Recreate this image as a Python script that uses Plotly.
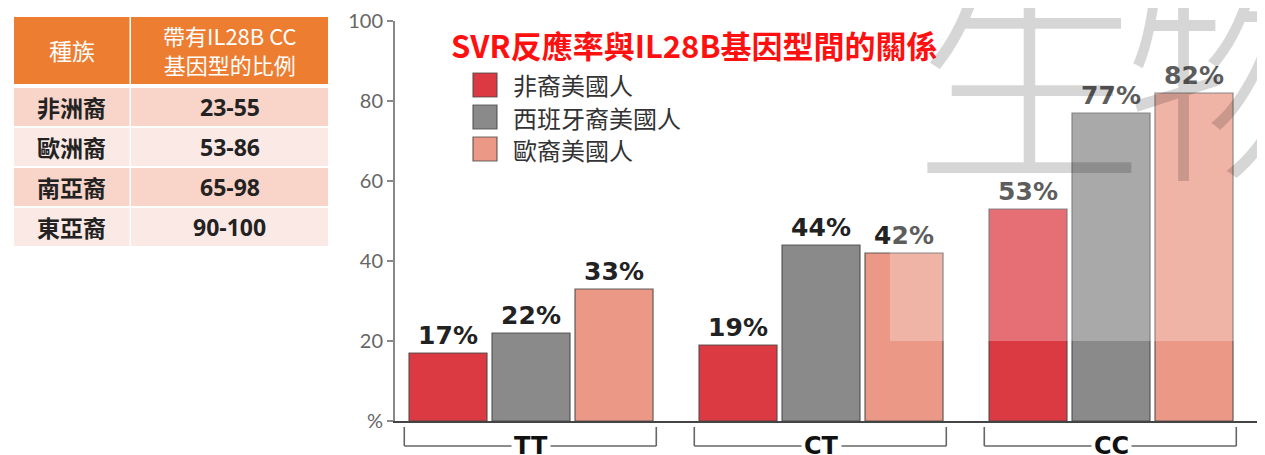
import plotly.graph_objects as go

# page is 1265x455; the html body has an 8px default margin,
# so the figure is made 8px smaller and all layout positions are offset.
OFF = 8
W, H = 1265 - OFF, 455 - OFF

# ---------------- data ----------------
genotypes = ["TT", "CT", "CC"]
series_names = ["非裔美國人", "西班牙裔美國人", "歐裔美國人"]
african_american = [17, 19, 53]
hispanic_american = [22, 44, 77]
european_american = [33, 42, 82]
series_values = [african_american, hispanic_american, european_american]
series_colors = ["#DC3A42", "#8A8A8A", "#EB9886"]

table_header = ["種族", "帶有IL28B CC<br>基因型的比例"]
table_groups = ["非洲裔", "歐洲裔", "南亞裔", "東亞裔"]
table_ranges = ["23-55", "53-86", "65-98", "90-100"]

y_tickvals = [0, 20, 40, 60, 80, 100]
y_ticktext = ["%", "20", "40", "60", "80", "100"]

title_text = "SVR反應率與IL28B基因型間的關係"
watermark_chars = ["生", "物"]


def px(x):
    return (x - OFF) / W


def py(y):
    return 1 - (y - OFF) / H


CJK = "Noto Sans CJK TC"
NUM = "DejaVu Sans"

fig = go.Figure()

for name, vals, col in zip(series_names, series_values, series_colors):
    fig.add_trace(go.Bar(
        x=genotypes, y=vals, name=name,
        marker=dict(color=col, line=dict(color="rgba(70,70,70,0.85)", width=1.2)),
        texttemplate="<b>%{y}%</b>", textposition="outside",
        textfont=dict(family=NUM, size=25, color="#222222"),
        showlegend=False,
    ))

shapes = []
annotations = []

# ---------------- table on the left (drawn with shapes + text) ----------------
col_edges = [(14, 129.5), (131, 328)]
row_fill = ["#F8D4C9", "#FBE9E5", "#F8D4C9", "#FBE9E5"]
# header
for (x0, x1), txt, fs in zip(col_edges, table_header, [23, 22]):
    shapes.append(dict(type="rect", xref="paper", yref="paper", layer="below",
                       x0=px(x0), x1=px(x1), y0=py(84), y1=py(17),
                       fillcolor="#ED7D31", line=dict(width=0)))
    annotations.append(dict(text=txt, xref="paper", yref="paper",
                            x=px((x0 + x1) / 2), y=py(50), xanchor="center", yanchor="middle",
                            showarrow=False, align="center",
                            font=dict(family=CJK, size=fs, color="white")))
# body rows
for i, (g, r) in enumerate(zip(table_groups, table_ranges)):
    top = 88 + 40 * i
    bot = top + 38
    for (x0, x1), txt, fam, fs in zip(col_edges, [g, r], [CJK, "Open Sans"], [23, 23]):
        shapes.append(dict(type="rect", xref="paper", yref="paper", layer="below",
                           x0=px(x0), x1=px(x1), y0=py(bot), y1=py(top),
                           fillcolor=row_fill[i], line=dict(width=0)))
        annotations.append(dict(text="<b>%s</b>" % txt, xref="paper", yref="paper",
                                x=px((x0 + x1) / 2), y=py((top + bot) / 2),
                                xanchor="center", yanchor="middle", showarrow=False,
                                font=dict(family=fam, size=fs, color="#222222")))

# ---------------- manual legend ----------------
for i, (name, col) in enumerate(zip(series_names, series_colors)):
    cy = 85 + i * 32
    shapes.append(dict(type="rect", xref="paper", yref="paper",
                       x0=px(473), x1=px(497), y0=py(cy + 12), y1=py(cy - 12),
                       fillcolor=col, line=dict(color="rgba(70,70,70,0.8)", width=1.2)))
    annotations.append(dict(text=name, xref="paper", yref="paper", x=px(511), y=py(cy),
                            xanchor="left", yanchor="middle", showarrow=False,
                            font=dict(family=CJK, size=24, color="#333333")))

# title
annotations.append(dict(text="<b>%s</b>" % title_text, xref="paper", yref="paper",
                        x=px(694), y=py(44), xanchor="center", yanchor="middle",
                        showarrow=False, font=dict(family=CJK, size=31, color="#FF1010")))

# group brackets below x axis
for i, g in enumerate(genotypes):
    l, r = i - 0.437, i + 0.432
    ytop, ybot = py(427), py(446)
    for seg in [(l, ytop, l, ybot), (r, ytop, r, ybot), (l, ybot, r, ybot)]:
        shapes.append(dict(type="line", xref="x", yref="paper",
                           x0=seg[0], y0=seg[1], x1=seg[2], y1=seg[3],
                           line=dict(color="#666666", width=1.6)))
    annotations.append(dict(text="<b>%s</b>" % g, xref="x", yref="paper", x=i, y=py(446),
                            xanchor="center", yanchor="middle", showarrow=False,
                            bgcolor="white", borderpad=2,
                            font=dict(family=NUM, size=24, color="#111111")))

# faded white overlay (upper right)
shapes.append(dict(type="rect", xref="paper", yref="paper", layer="above",
                   x0=px(890), x1=1, y0=py(341), y1=1,
                   fillcolor="rgba(255,255,255,0.27)", line=dict(width=0)))

# watermark characters
for ch, xc in zip(watermark_chars, [1029, 1240]):
    annotations.append(dict(text=ch, xref="paper", yref="paper",
                            x=px(xc), y=py(63), xanchor="center", yanchor="middle",
                            showarrow=False,
                            font=dict(family=CJK, size=230, color="rgba(0,0,0,0.16)",
                                      weight=200)))

fig.update_layout(
    width=W, height=H,
    margin=dict(l=0, r=0, t=0, b=0, autoexpand=False),
    paper_bgcolor="white", plot_bgcolor="white",
    barmode="group", bargap=0.1414, bargroupgap=0.06,
    shapes=shapes, annotations=annotations,
    xaxis=dict(domain=[px(395), 1], type="category", range=[-0.469, 2.531],
               showticklabels=False, ticks="", showgrid=False, zeroline=False,
               showline=True, linecolor="#444444", linewidth=2),
    yaxis=dict(domain=[py(421), py(21)], range=[0, 100], tickvals=y_tickvals,
               ticktext=y_ticktext, ticks="outside", ticklen=6, tickwidth=2,
               tickcolor="#888888", showgrid=False, zeroline=False,
               showline=True, linecolor="#888888", linewidth=2,
               tickfont=dict(family="Lato", size=20, color="#666666")),
)

fig.write_html("out.html")
